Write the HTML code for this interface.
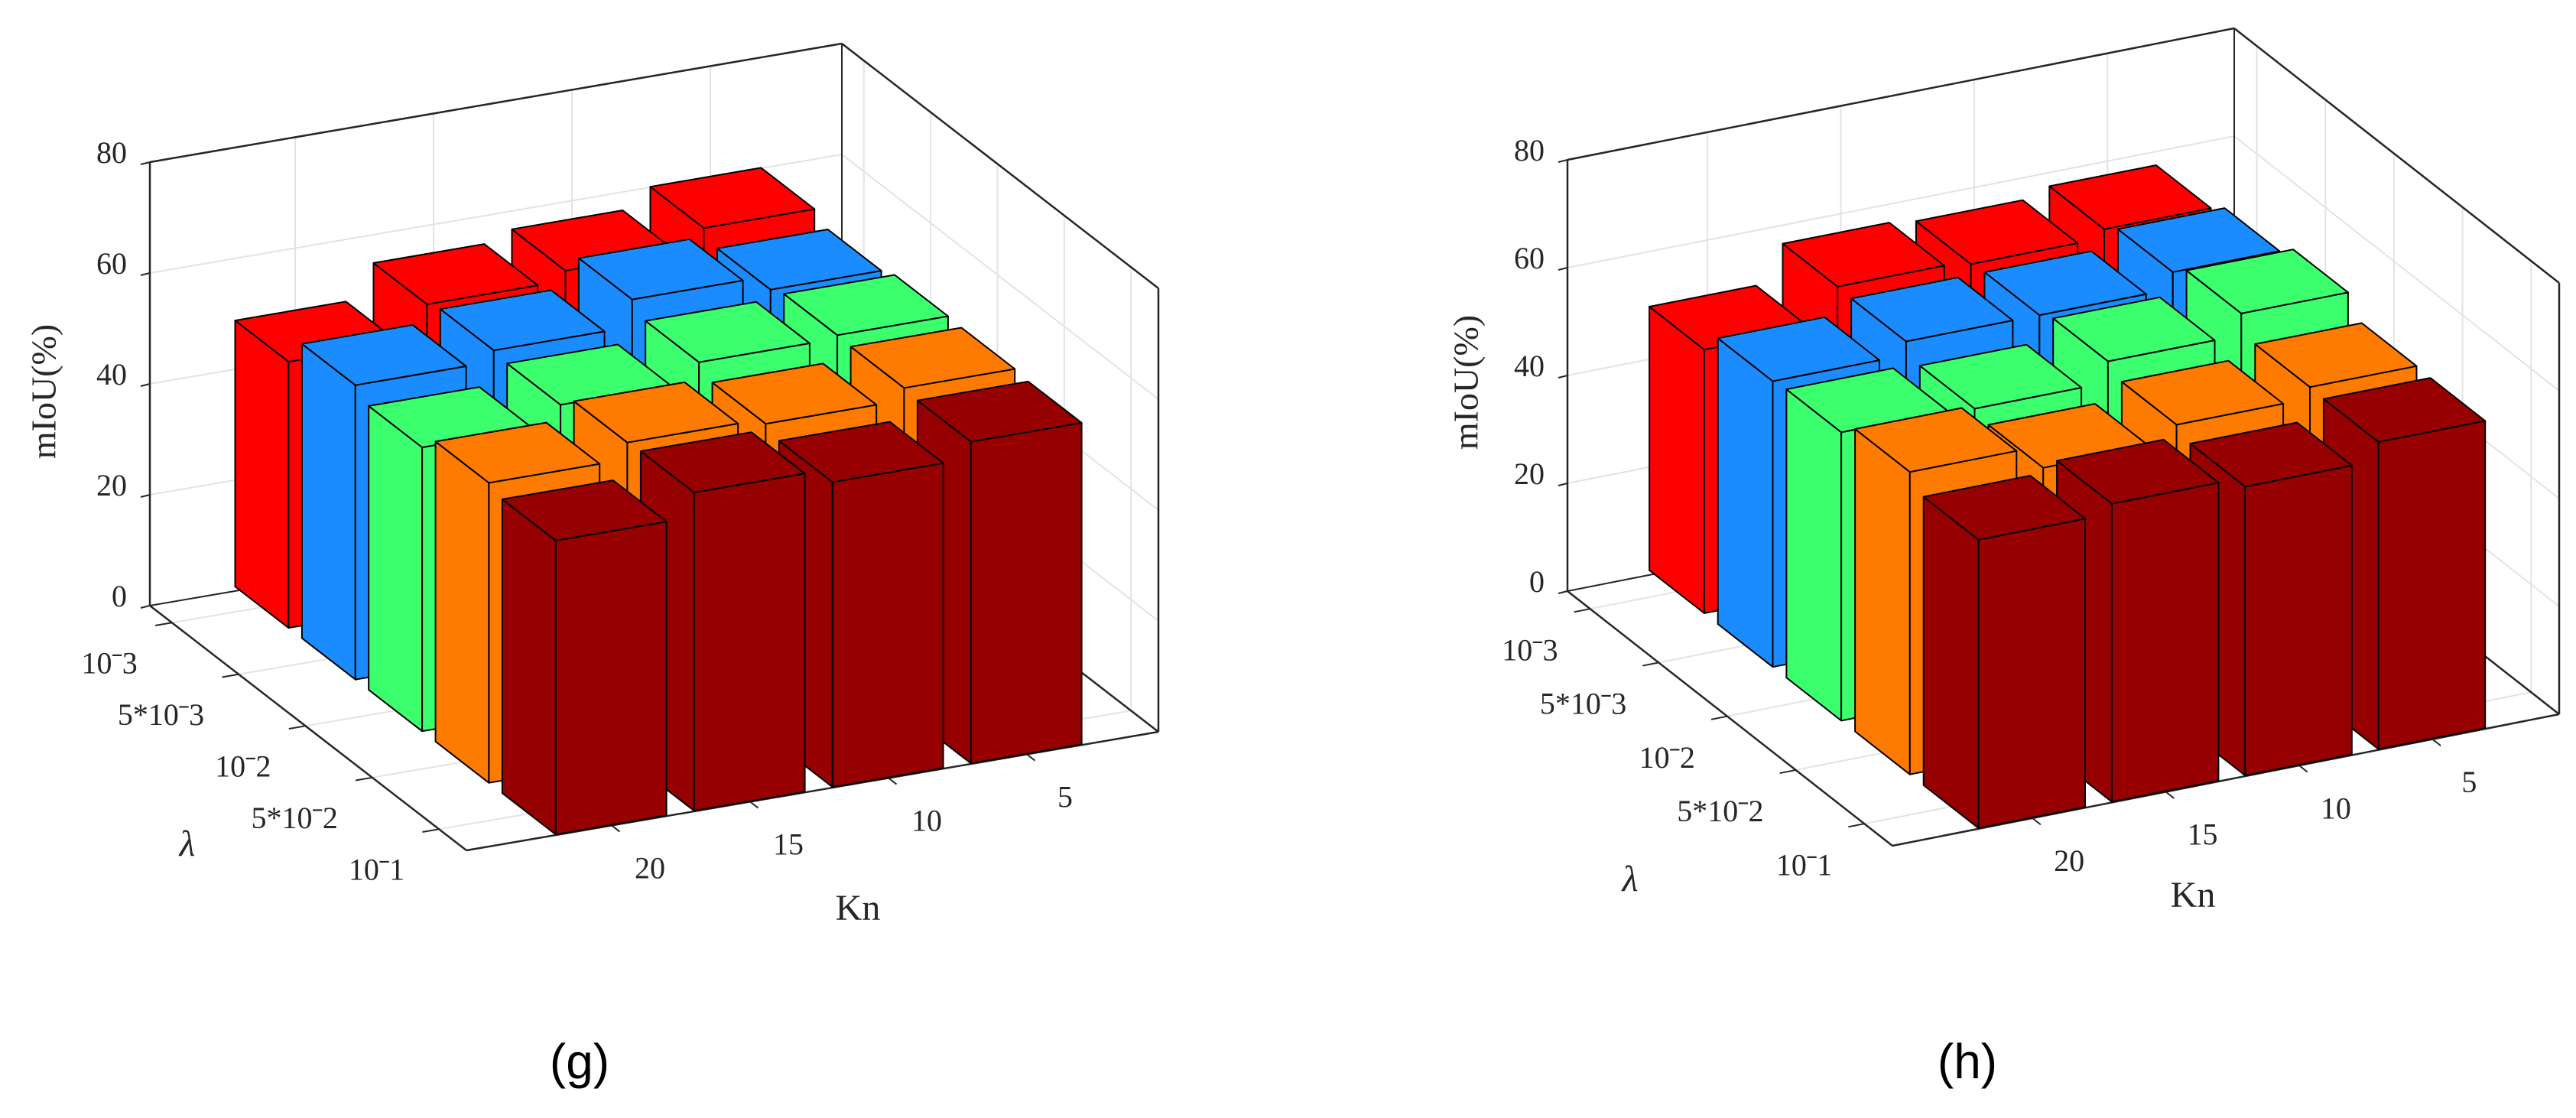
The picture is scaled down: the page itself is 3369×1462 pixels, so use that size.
<!DOCTYPE html>
<html>
<head>
<meta charset="utf-8">
<style>
html,body{margin:0;padding:0;background:#fff;}
svg{display:block;}
text{font-family:"Liberation Serif",serif;fill:#262626;}
.cap{font-family:"Liberation Sans",sans-serif;fill:#000;}
</style>
</head>
<body>
<svg id="fig" width="3369" height="1462" viewBox="0 0 3369 1462" xmlns="http://www.w3.org/2000/svg">
  <g id="chart-g"></g>
  <g id="chart-h"></g>
  <text class="cap" x="758" y="1410" font-size="64" text-anchor="middle">(g)</text>
  <text class="cap" x="2573" y="1410" font-size="64" text-anchor="middle">(h)</text>
</svg>
<script>
// ---- data ----
const lambdaLabels = ['10ˉ3', '5*10ˉ3', '10ˉ2', '5*10ˉ2', '10ˉ1'];
const knLabels = ['20', '15', '10', '5'];
const zTicks = [0, 20, 40, 60, 80];
const seriesColors = ['#ff0000', '#1a8cff', '#3cff6e', '#ff7b00', '#960000'];
const seriesNames = ['lambda-1e-3', 'lambda-5e-3', 'lambda-1e-2', 'lambda-5e-2', 'lambda-1e-1'];

// chart (g): rows = lambda, columns = Kn 20,15,10,5
const gRed = [48.0, 54.1, 55.9, 59.3];
const gBlue = [53.1, 55.1, 60.0, 57.5];
const gGreen = [51.2, 54.6, 58.0, 58.6];
const gOrange = [54.1, 57.1, 56.2, 58.4];
const gDarkRed = [53.0, 57.4, 55.0, 58.0];

// chart (h)
const hRed = [48.9, 55.7, 55.0, 56.6];
const hBlue = [53.0, 55.5, 55.5, 58.6];
const hGreen = [53.5, 53.0, 56.9, 60.9];
const hOrange = [56.1, 52.0, 55.1, 57.2];
const hDarkRed = [53.5, 55.3, 53.6, 57.0];

const NS = 'http://www.w3.org/2000/svg';
function mk(parent, tag, attrs) {
  const e = document.createElementNS(NS, tag);
  for (const k in attrs) e.setAttribute(k, attrs[k]);
  parent.appendChild(e);
  return e;
}

function drawChart(root, geo, series, prefix) {
  const U0 = -0.05, U1 = 4.95, V0 = 0.67, V1 = 5.41, ZMAX = 80;
  function P(u, v, z) {
    const fu = (u - U0) / (U1 - U0), fv = (v - V0) / (V1 - V0);
    return [geo.ax + fu * geo.kx + fv * geo.lx, geo.ay + fu * geo.ky + fv * geo.ly - z * geo.zs];
  }
  function line(p, q, stroke, w, name) {
    const e = mk(root, 'line', {x1: p[0], y1: p[1], x2: q[0], y2: q[1], stroke: stroke, 'stroke-width': w});
    
    
    return e;
  }
  const grid = '#e3e3e3';
  zTicks.forEach(z => {
    if (z > 0 && z < ZMAX) {
      line(P(U0, V0, z), P(U1, V0, z), grid, 2, 'back-gridline');
      line(P(U1, V0, z), P(U1, V1, z), grid, 2, 'side-gridline');
    }
  });
  knLabels.forEach((k, i) => {
    const u = i + 1;
    line(P(u, V0, 0), P(u, V0, ZMAX), grid, 2, 'back-gridline');
    line(P(u, V0, 0), P(u, V1, 0), grid, 2, 'floor-gridline');
  });
  lambdaLabels.forEach((l, j) => {
    const v = j + 1;
    line(P(U1, v, 0), P(U1, v, ZMAX), grid, 2, 'side-gridline');
    line(P(U0, v, 0), P(U1, v, 0), grid, 2, 'floor-gridline');
  });
  const ax = '#262626';
  line(P(U0, V0, 0), P(U0, V0, ZMAX), ax, 2.5, 'z-axis-line');
  line(P(U0, V0, ZMAX), P(U1, V0, ZMAX), ax, 2.5, 'box-edge');
  line(P(U1, V0, ZMAX), P(U1, V1, ZMAX), ax, 2.5, 'box-edge');
  line(P(U1, V1, ZMAX), P(U1, V1, 0), ax, 2.5, 'box-edge');
  line(P(U1, V0, 0), P(U1, V0, ZMAX), ax, 2, 'box-edge');
  line(P(U1, V0, 0), P(U1, V1, 0), ax, 2.5, 'floor-edge');
  line(P(U0, V0, 0), P(U1, V0, 0), ax, 2, 'floor-edge');
  line(P(U0, V0, 0), P(U0, V1, 0), ax, 2.5, 'lambda-axis-line');
  line(P(U0, V1, 0), P(U1, V1, 0), ax, 2.5, 'kn-axis-line');

  zTicks.forEach(z => {
    const p = P(U0, V0, z);
    line([p[0] - 12, p[1] + 3], p, ax, 2, 'z-tick');
    const t = mk(root, 'text', {x: p[0] - 30, y: p[1] - 8, 'font-size': 40, 'text-anchor': 'end', 'dominant-baseline': 'middle'});
    t.textContent = String(z);
    
    
  });
  lambdaLabels.forEach((lab, j) => {
    const p = P(U0, j + 1, 0);
    const q = P(U0 - 0.12, j + 1, 0);
    line(p, q, ax, 2, 'lambda-tick');
    const t = mk(root, 'text', {x: p[0] + geo.lox, y: p[1] + geo.loy, 'font-size': 40, 'text-anchor': 'end', 'dominant-baseline': 'middle'});
    t.textContent = lab;
    
    
  });
  knLabels.forEach((lab, i) => {
    const p = P(i + 1, V1, 0);
    const q = P(i + 1, V1 + 0.12, 0);
    line(p, q, ax, 2, 'kn-tick');
    const t = mk(root, 'text', {x: p[0] + geo.kox, y: p[1] + geo.koy, 'font-size': 40, 'text-anchor': 'middle', 'dominant-baseline': 'middle'});
    t.textContent = lab;
    
    
  });
  const zt = mk(root, 'text', {x: geo.ztx, y: geo.zty, 'font-size': 46, 'text-anchor': 'middle', 'dominant-baseline': 'middle', transform: 'rotate(-90 ' + geo.ztx + ' ' + geo.zty + ')'});
  zt.textContent = 'mIoU(%)';
  
  
  const kt = mk(root, 'text', {x: geo.ktx, y: geo.kty, 'font-size': 48, 'text-anchor': 'middle', 'dominant-baseline': 'middle'});
  kt.textContent = 'Kn';
  
  
  const lt = mk(root, 'text', {x: geo.ltx, y: geo.lty, 'font-size': 48, 'font-style': 'italic', 'text-anchor': 'middle', 'dominant-baseline': 'middle'});
  lt.textContent = 'λ';
  
  

  const W = 0.4;
  function poly(parent, pts, fill, name) {
    const e = mk(parent, 'polygon', {points: pts.map(p => p[0].toFixed(1) + ',' + p[1].toFixed(1)).join(' '), fill: fill, stroke: '#000', 'stroke-width': 2, 'stroke-linejoin': 'round'});
    
    
  }
  series.forEach((vals, j) => {
    const v = j + 1;
    for (let i = vals.length - 1; i >= 0; i--) {
      const u = i + 1, z = vals[i];
      const g = mk(root, 'g', {});
      
      
      const col = seriesColors[j];
      const u0 = u - W, u1 = u + W, v0 = v - W, v1 = v + W;
      poly(g, [P(u0, v0, 0), P(u0, v1, 0), P(u0, v1, z), P(u0, v0, z)], col, 'bar-side-face');
      poly(g, [P(u0, v1, 0), P(u1, v1, 0), P(u1, v1, z), P(u0, v1, z)], col, 'bar-front-face');
      poly(g, [P(u0, v0, z), P(u1, v0, z), P(u1, v1, z), P(u0, v1, z)], col, 'bar-top-face');
    }
  });
}

drawChart(document.getElementById('chart-g'),
  {ax: 196, ay: 792, kx: 905, ky: -155, lx: 414, ly: 320, zs: 7.25,
   lox: -45, loy: 57, kox: 50, koy: 60, ztx: 62, zty: 512, ktx: 1122, kty: 1192, ltx: 245, lty: 1108},
  [gRed, gBlue, gGreen, gOrange, gDarkRed], 'g');

drawChart(document.getElementById('chart-h'),
  {ax: 2050, ay: 773, kx: 872, ky: -172, lx: 425, ly: 333, zs: 7.05,
   lox: -42, loy: 58, kox: 48, koy: 60, ztx: 1922, zty: 500, ktx: 2868, kty: 1175, ltx: 2132, lty: 1154},
  [hRed, hBlue, hGreen, hOrange, hDarkRed], 'h');
</script>
</body>
</html>
